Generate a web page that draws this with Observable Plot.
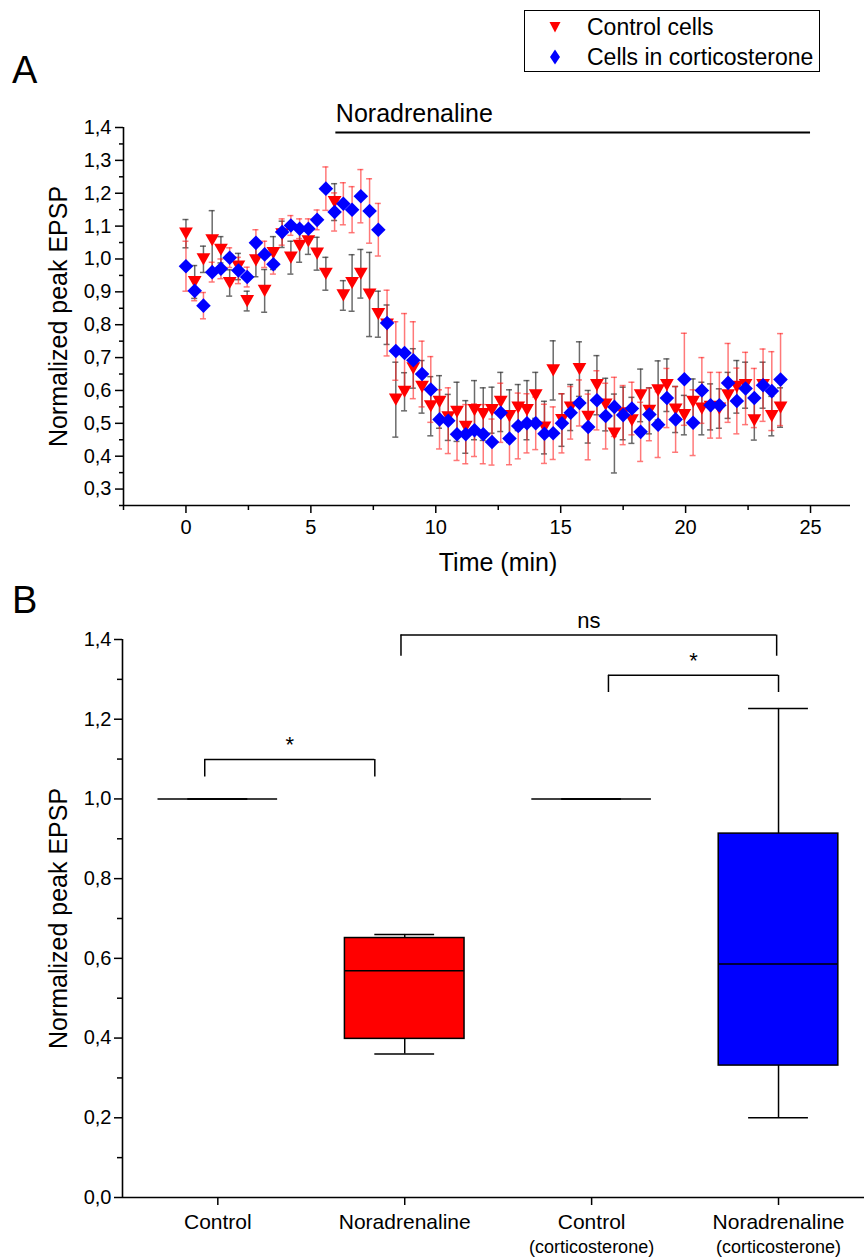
<!DOCTYPE html>
<html>
<head>
<meta charset="utf-8">
<script src="https://cdn.jsdelivr.net/npm/d3@7"></script>
<script src="https://cdn.jsdelivr.net/npm/@observablehq/plot@0.6"></script>
<style>
  html, body { margin: 0; padding: 0; background: #fff; }
  body { font-family: "Liberation Sans", Arial, sans-serif; color: #000; }
  #wrap { position: relative; width: 864px; height: 1259px; overflow: hidden; }
  .panel-label { position: absolute; font-size: 38px; line-height: 1; }
  #chartA { position: absolute; left: 0; top: 0; }
  #chartB { position: absolute; left: 0; top: 590px; }
  #legend { position: absolute; left: 524px; top: 10px; }
</style>
</head>
<body>
<div id="wrap">
  <div id="chartA"></div>
  <div id="chartB"></div>
  <div class="panel-label" style="left:12px; top:51px;">A</div>
  <div class="panel-label" style="left:12px; top:581px;">B</div>
  <div id="legend"></div>
</div>
<script>
// ---------------- Panel A data ----------------
const timeMin = [0, 0.35, 0.70, 1.05, 1.40, 1.75, 2.10, 2.45, 2.80, 3.15,
  3.50, 3.85, 4.20, 4.55, 4.90, 5.25, 5.60, 5.95, 6.30, 6.65,
  7.00, 7.35, 7.70, 8.05, 8.40, 8.75, 9.10, 9.45, 9.80, 10.15,
  10.50, 10.85, 11.20, 11.55, 11.90, 12.25, 12.60, 12.95, 13.30, 13.65,
  14.00, 14.35, 14.70, 15.05, 15.40, 15.75, 16.10, 16.45, 16.80, 17.15,
  17.50, 17.85, 18.20, 18.55, 18.90, 19.25, 19.60, 19.95, 20.30, 20.65,
  21.00, 21.35, 21.70, 22.05, 22.40, 22.75, 23.10, 23.45, 23.80];

const controlMean = [1.077, 0.930, 0.999, 1.057, 1.028, 0.927, 0.977, 0.872, 0.996, 0.903,
  1.018, 1.075, 1.004, 1.040, 1.054, 1.016, 0.955, 1.173, 0.889, 0.927,
  0.955, 0.892, 0.832, 0.800, 0.572, 0.596, 0.667, 0.611, 0.552, 0.565,
  0.518, 0.535, 0.489, 0.540, 0.528, 0.540, 0.565, 0.522, 0.548, 0.540,
  0.585, 0.487, 0.661, 0.510, 0.548, 0.665, 0.520, 0.616, 0.557, 0.469,
  0.530, 0.509, 0.585, 0.538, 0.600, 0.616, 0.542, 0.525, 0.565, 0.545,
  0.550, 0.545, 0.585, 0.611, 0.616, 0.509, 0.616, 0.522, 0.548];

const controlErr = [0.043, 0.050, 0.040, 0.090, 0.040, 0.040, 0.040, 0.030, 0.050, 0.065,
  0.050, 0.040, 0.050, 0.050, 0.040, 0.050, 0.050, 0.056, 0.045, 0.086,
  0.074, 0.128, 0.070, 0.060, 0.114, 0.058, 0.060, 0.080, 0.090, 0.080,
  0.070, 0.090, 0.080, 0.090, 0.080, 0.070, 0.090, 0.080, 0.070, 0.090,
  0.070, 0.080, 0.090, 0.080, 0.070, 0.083, 0.080, 0.090, 0.080, 0.120,
  0.080, 0.070, 0.080, 0.070, 0.090, 0.080, 0.070, 0.060, 0.070, 0.080,
  0.070, 0.060, 0.070, 0.080, 0.070, 0.060, 0.070, 0.060, 0.060];

const cortMean = [0.978, 0.903, 0.858, 0.960, 0.970, 1.004, 0.965, 0.945, 1.049, 1.014,
  0.984, 1.082, 1.102, 1.092, 1.092, 1.119, 1.214, 1.143, 1.168, 1.150,
  1.191, 1.146, 1.089, 0.805, 0.720, 0.714, 0.692, 0.650, 0.603, 0.512,
  0.508, 0.467, 0.467, 0.479, 0.467, 0.443, 0.532, 0.454, 0.492, 0.500,
  0.500, 0.468, 0.470, 0.500, 0.532, 0.562, 0.489, 0.570, 0.522, 0.550,
  0.525, 0.545, 0.474, 0.527, 0.496, 0.577, 0.512, 0.634, 0.502, 0.600,
  0.555, 0.555, 0.623, 0.568, 0.606, 0.577, 0.616, 0.598, 0.633];

const cortErr = [0.076, 0.030, 0.040, 0.030, 0.030, 0.030, 0.040, 0.030, 0.040, 0.040,
  0.030, 0.040, 0.030, 0.030, 0.030, 0.030, 0.066, 0.058, 0.064, 0.070,
  0.081, 0.098, 0.080, 0.100, 0.089, 0.120, 0.117, 0.100, 0.100, 0.090,
  0.100, 0.080, 0.090, 0.080, 0.090, 0.070, 0.090, 0.080, 0.100, 0.090,
  0.080, 0.090, 0.080, 0.090, 0.080, 0.070, 0.100, 0.090, 0.100, 0.090,
  0.090, 0.080, 0.090, 0.080, 0.100, 0.090, 0.100, 0.140, 0.100, 0.100,
  0.100, 0.100, 0.120, 0.100, 0.110, 0.090, 0.110, 0.120, 0.140];

const seriesNames = ["Control cells", "Cells in corticosterone"];
const seriesColors = ["#ff0000", "#0000ff"];
const treatment = [{label: "Noradrenaline", start: 6, end: 25, level: 1.385}];

const xMajorA = [0, 5, 10, 15, 20, 25];
const xMinorA = [-2.5, 2.5, 7.5, 12.5, 17.5, 22.5];
const yMajorA = [0.3, 0.4, 0.5, 0.6, 0.7, 0.8, 0.9, 1.0, 1.1, 1.2, 1.3, 1.4];
const yMinorA = [0.25, 0.35, 0.45, 0.55, 0.65, 0.75, 0.85, 0.95, 1.05, 1.15, 1.25, 1.35];

// ---------------- Panel B data ----------------
const groups = ["Control", "Noradrenaline", "Control", "Noradrenaline"];
const subLabels = ["", "", "(corticosterone)", "(corticosterone)"];
const boxMin = [1.0, 0.360, 1.0, 0.200];
const boxQ1 = [1.0, 0.398, 1.0, 0.331];
const boxMedian = [1.0, 0.569, 1.0, 0.586];
const boxQ3 = [1.0, 0.651, 1.0, 0.913];
const boxMax = [1.0, 0.660, 1.0, 1.227];
const boxColors = ["#ff0000", "#ff0000", "#0000ff", "#0000ff"];

const bracketFrom = [0.93, 1.98, 3.09];
const bracketTo = [1.84, 3.99, 4.00];
const bracketTop = [1.099, 1.411, 1.310];
const bracketFoot = [1.055, 1.358, 1.267];
const bracketText = ["*", "ns", "*"];

const yMajorB = [0, 0.2, 0.4, 0.6, 0.8, 1.0, 1.2, 1.4];
const yMinorB = [0.1, 0.3, 0.5, 0.7, 0.9, 1.1, 1.3];

// ---------------- helpers ----------------
const FONT = '"Liberation Sans", Arial, sans-serif';
const comma = d => d.toFixed(1).replace(".", ",");

const triangleDown = {
  draw(context, size) {
    const r = Math.sqrt(size / Math.PI);
    const w = 2.6 * r, h = 2.3 * r;
    context.moveTo(-w / 2, -h / 2);
    context.lineTo(w / 2, -h / 2);
    context.lineTo(0, h / 2);
    context.closePath();
  }
};
const diamond = {
  draw(context, size) {
    const r = Math.sqrt(size / Math.PI);
    const a = 1.3 * r;
    context.moveTo(0, -a);
    context.lineTo(a, 0);
    context.lineTo(0, a);
    context.lineTo(-a, 0);
    context.closePath();
  }
};

const rows = timeMin.map((t, i) => ({
  t,
  ctl: controlMean[i], ctlErr: controlErr[i],
  cort: cortMean[i], cortErr: cortErr[i]
}));

const capHalf = 0.12;
const grayBar = {stroke: "#3a3a3a", strokeOpacity: 0.75, strokeWidth: 1.5};
const redBar = {stroke: "#ff2020", strokeOpacity: 0.6, strokeWidth: 1.5};

const xDomA = [-2.5, 26.6];
const yDomA = [0.25, 1.4];

const plotA = Plot.plot({
  width: 864, height: 590,
  marginLeft: 123, marginRight: 14, marginTop: 127, marginBottom: 85,
  x: {domain: xDomA},
  y: {domain: yDomA},
  style: {fontFamily: FONT, fontSize: "20px", color: "#000", background: "transparent", overflow: "visible"},
  marks: [
    // error bars, control (gray)
    Plot.ruleX(rows, {x: "t", y1: d => d.ctl - d.ctlErr, y2: d => d.ctl + d.ctlErr, ...grayBar}),
    Plot.ruleY(rows, {y: d => d.ctl + d.ctlErr, x1: d => d.t - capHalf, x2: d => d.t + capHalf, ...grayBar}),
    Plot.ruleY(rows, {y: d => d.ctl - d.ctlErr, x1: d => d.t - capHalf, x2: d => d.t + capHalf, ...grayBar}),
    // error bars, corticosterone (red)
    Plot.ruleX(rows, {x: "t", y1: d => d.cort - d.cortErr, y2: d => d.cort + d.cortErr, ...redBar}),
    Plot.ruleY(rows, {y: d => d.cort + d.cortErr, x1: d => d.t - capHalf, x2: d => d.t + capHalf, ...redBar}),
    Plot.ruleY(rows, {y: d => d.cort - d.cortErr, x1: d => d.t - capHalf, x2: d => d.t + capHalf, ...redBar}),
    // symbols
    Plot.dot(rows, {x: "t", y: "ctl", symbol: triangleDown, r: 5.3, fill: seriesColors[0], stroke: "none"}),
    Plot.dot(rows, {x: "t", y: "cort", symbol: diamond, r: 5.6, fill: seriesColors[1], stroke: "none"}),
    // treatment bar
    Plot.ruleY(treatment, {y: "level", x1: "start", x2: "end", stroke: "#000", strokeWidth: 2}),
    Plot.text(treatment, {x: "start", y: "level", text: "label", textAnchor: "start", lineAnchor: "bottom", dy: -10, fontSize: 25}),
    // axes
    Plot.ruleY([yDomA[0]], {stroke: "#000", strokeWidth: 1.6}),
    Plot.ruleX([xDomA[0]], {stroke: "#000", strokeWidth: 1.6}),
    Plot.axisX({ticks: xMajorA, tickSize: 8, tickPadding: 6, tickFormat: d => String(d), label: null, fontSize: 20, strokeWidth: 1.5}),
    Plot.axisX({ticks: xMinorA, tickSize: 5, tickFormat: () => "", label: null, strokeWidth: 1.5}),
    Plot.axisY({ticks: yMajorA, tickSize: 8, tickPadding: 4, tickFormat: comma, label: null, fontSize: 20, strokeWidth: 1.5}),
    Plot.axisY({ticks: yMinorA, tickSize: 4, tickFormat: () => "", label: null, strokeWidth: 1.5}),
    Plot.text(["Time (min)"], {frameAnchor: "bottom", dx: 11, dy: 65, fontSize: 25}),
    Plot.text(["Normalized peak EPSP"], {frameAnchor: "left", textAnchor: "middle", rotate: -90, dx: -65, fontSize: 25})
  ]
});
document.getElementById("chartA").append(plotA);

// ---------------- Panel B ----------------
const boxes = groups.map((g, i) => ({
  pos: i + 1, min: boxMin[i], q1: boxQ1[i], med: boxMedian[i], q3: boxQ3[i], max: boxMax[i], color: boxColors[i]
}));
const brackets = bracketText.map((s, i) => ({
  x1: bracketFrom[i], x2: bracketTo[i], top: bracketTop[i], foot: bracketFoot[i], label: s
}));
const boxHalf = 0.32, whiskerHalf = 0.16;
const xDomB = [0.49, 4.46];
const yDomB = [0, 1.4];

const plotB = Plot.plot({
  width: 864, height: 669,
  marginLeft: 122, marginRight: 0, marginTop: 49, marginBottom: 62,
  x: {domain: xDomB},
  y: {domain: yDomB},
  color: {type: "identity"},
  style: {fontFamily: FONT, fontSize: "20px", color: "#000", background: "transparent", overflow: "visible"},
  marks: [
    // whiskers
    Plot.ruleX(boxes, {x: "pos", y1: "q3", y2: "max", stroke: "#000", strokeWidth: 1.5}),
    Plot.ruleX(boxes, {x: "pos", y1: "min", y2: "q1", stroke: "#000", strokeWidth: 1.5}),
    Plot.ruleY(boxes, {y: "max", x1: d => d.pos - whiskerHalf, x2: d => d.pos + whiskerHalf, stroke: "#000", strokeWidth: 1.5}),
    Plot.ruleY(boxes, {y: "min", x1: d => d.pos - whiskerHalf, x2: d => d.pos + whiskerHalf, stroke: "#000", strokeWidth: 1.5}),
    // boxes
    Plot.rect(boxes, {x1: d => d.pos - boxHalf, x2: d => d.pos + boxHalf, y1: "q1", y2: "q3", fill: "color", stroke: "#000", strokeWidth: 1.5}),
    Plot.ruleY(boxes, {y: "med", x1: d => d.pos - boxHalf, x2: d => d.pos + boxHalf, stroke: "#000", strokeWidth: 1.5}),
    // significance brackets
    Plot.ruleY(brackets, {y: "top", x1: "x1", x2: "x2", stroke: "#000", strokeWidth: 1.5}),
    Plot.ruleX(brackets, {x: "x1", y1: "foot", y2: "top", stroke: "#000", strokeWidth: 1.5}),
    Plot.ruleX(brackets, {x: "x2", y1: "foot", y2: "top", stroke: "#000", strokeWidth: 1.5}),
    Plot.text(brackets, {x: d => (d.x1 + d.x2) / 2, y: "top", text: "label", lineAnchor: "bottom", dy: -7, fontSize: 22}),
    // axes
    Plot.ruleY([yDomB[0]], {stroke: "#000", strokeWidth: 1.6}),
    Plot.ruleX([xDomB[0]], {stroke: "#000", strokeWidth: 1.6}),
    Plot.axisY({ticks: yMajorB, tickSize: 8, tickPadding: 3, tickFormat: comma, label: null, fontSize: 20, strokeWidth: 1.5}),
    Plot.axisY({ticks: yMinorB, tickSize: 5, tickFormat: () => "", label: null, strokeWidth: 1.5}),
    Plot.axisX({ticks: [1, 2, 3, 4], tickSize: 8, tickPadding: 9, tickFormat: d => groups[d - 1], label: null, fontSize: 21, strokeWidth: 1.5}),
    Plot.text(boxes, {x: "pos", text: d => subLabels[d.pos - 1], frameAnchor: "bottom", dy: 55, fontSize: 18}),
    Plot.text(["Normalized peak EPSP"], {frameAnchor: "left", textAnchor: "middle", rotate: -90, dx: -64, fontSize: 25})
  ]
});
document.getElementById("chartB").append(plotB);

// ---------------- Legend ----------------
(function () {
  const ns = "http://www.w3.org/2000/svg";
  const svg = document.createElementNS(ns, "svg");
  svg.setAttribute("width", 297);
  svg.setAttribute("height", 63);
  svg.style.fontFamily = FONT;
  const rect = document.createElementNS(ns, "rect");
  rect.setAttribute("x", 0.5); rect.setAttribute("y", 0.5);
  rect.setAttribute("width", 295); rect.setAttribute("height", 61);
  rect.setAttribute("fill", "#fff"); rect.setAttribute("stroke", "#000");
  svg.append(rect);
  const shapes = ["M-5.5,-5L5.5,-5L0,5.5Z", "M0,-7.5L5,0L0,7.5L-5,0Z"];
  seriesNames.forEach((name, i) => {
    const cy = 17 + i * 30;
    const p = document.createElementNS(ns, "path");
    p.setAttribute("d", shapes[i]);
    p.setAttribute("fill", seriesColors[i]);
    p.setAttribute("transform", `translate(31,${cy})`);
    svg.append(p);
    const t = document.createElementNS(ns, "text");
    t.setAttribute("x", 63); t.setAttribute("y", cy);
    t.setAttribute("dominant-baseline", "central");
    t.setAttribute("font-size", 23);
    t.textContent = name;
    svg.append(t);
  });
  document.getElementById("legend").append(svg);
})();
</script>
</body>
</html>
